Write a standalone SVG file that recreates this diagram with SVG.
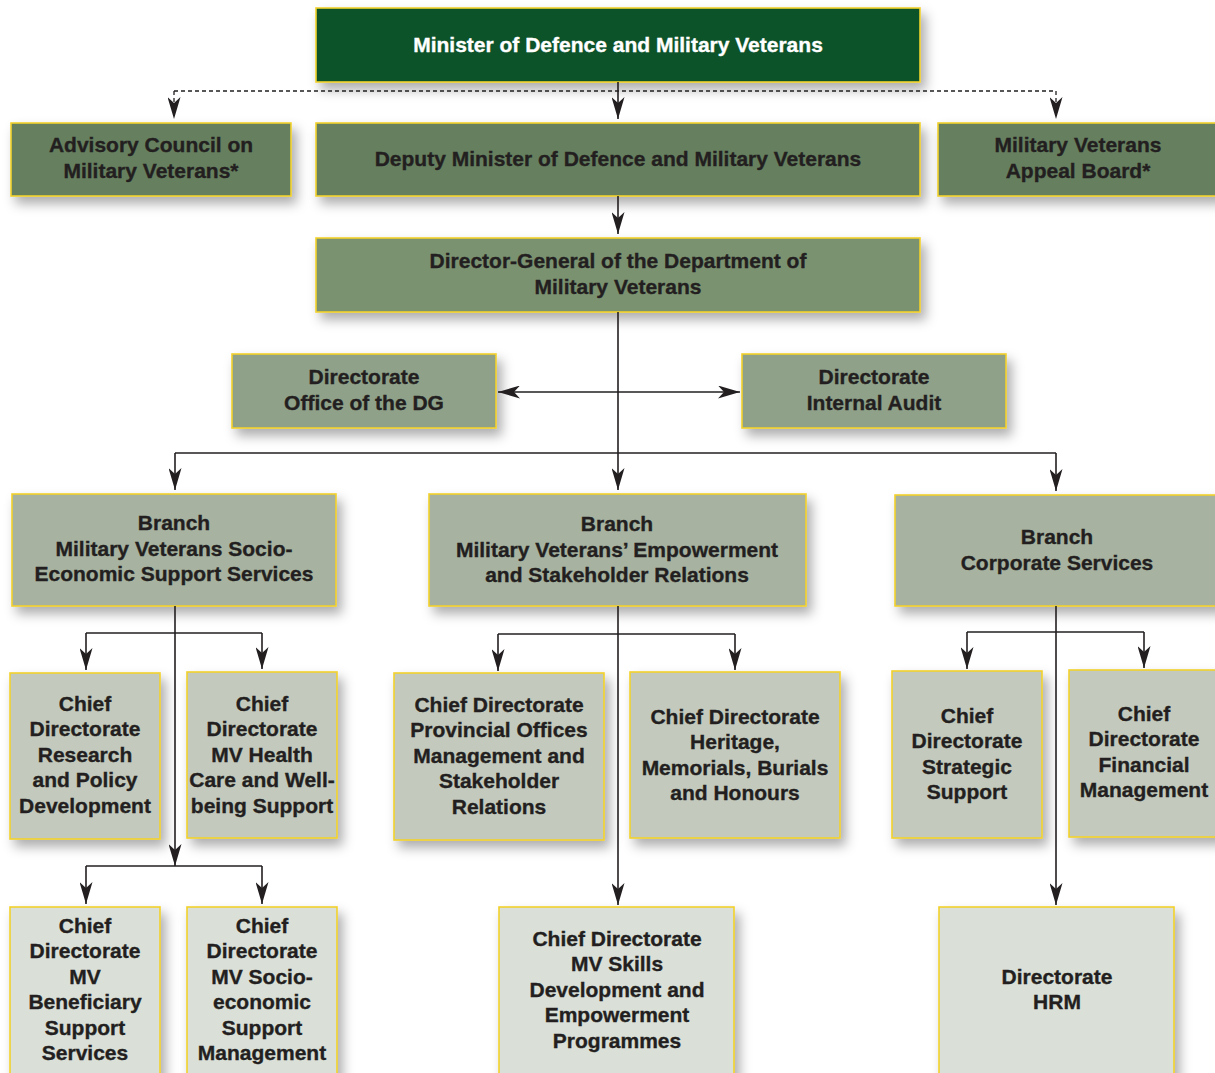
<svg xmlns="http://www.w3.org/2000/svg" width="1215" height="1073" viewBox="0 0 1215 1073">
<defs>
<filter id="sh" x="-20%" y="-20%" width="150%" height="160%">
<feDropShadow dx="5" dy="7" stdDeviation="6" flood-color="#000" flood-opacity="0.32"/>
</filter>
<marker id="ah" viewBox="0 0 22 13" markerUnits="userSpaceOnUse" markerWidth="22" markerHeight="13" refX="22" refY="6.5" orient="auto-start-reverse">
<path d="M0,0 L22,6.5 L0,13 L6,6.5 z" fill="#231f20"/>
</marker>
<style>
.box{stroke:#f2d12c;stroke-width:1.6;filter:url(#sh)}
.l0{fill:#0b532b}
.l1{fill:#66805f}
.l2{fill:#7a9270}
.l3{fill:#8fa189}
.l4{fill:#a7b3a0}
.l5{fill:#c3cabd}
.l6{fill:#dadfd8}
text{font-family:"Liberation Sans",Arial,sans-serif;font-weight:bold;font-size:21px;fill:#231f20;stroke:#231f20;stroke-width:0.35;text-anchor:middle}
.w{fill:#ffffff;stroke:#ffffff;font-size:21px}
.c{stroke:#231f20;stroke-width:1.6;fill:none}
.d{stroke:#231f20;stroke-width:1.3;fill:none;stroke-dasharray:4 3}
</style>
</defs>

<g id="minister"><rect class="box l0" x="316" y="8" width="604" height="74"/><text class="w" x="618" y="51.5">Minister of Defence and Military Veterans</text></g>

<g id="advisory"><rect class="box l1" x="11" y="123" width="280" height="73"/><text x="151" y="151.5">Advisory Council on</text><text x="151" y="177.5">Military Veterans*</text></g>
<g id="deputy"><rect class="box l1" x="316" y="123" width="604" height="73"/><text x="618" y="165.5">Deputy Minister of Defence and Military Veterans</text></g>
<g id="appeal"><rect class="box l1" x="938" y="123" width="290" height="73"/><text x="1078" y="151.5">Military Veterans</text><text x="1078" y="177.5">Appeal Board*</text></g>

<g id="dg"><rect class="box l2" x="316" y="238" width="604" height="74"/><text x="618" y="268">Director-General of the Department of</text><text x="618" y="294">Military Veterans</text></g>

<g id="office-dg"><rect class="box l3" x="232" y="354" width="264" height="74"/><text x="364" y="384">Directorate</text><text x="364" y="410">Office of the DG</text></g>
<g id="internal-audit"><rect class="box l3" x="742" y="354" width="264" height="74"/><text x="874" y="384">Directorate</text><text x="874" y="410">Internal Audit</text></g>

<g id="branch-socio"><rect class="box l4" x="12" y="494" width="324" height="112"/><text x="174" y="530">Branch</text><text x="174" y="555.5">Military Veterans Socio-</text><text x="174" y="581">Economic Support Services</text></g>
<g id="branch-empower"><rect class="box l4" x="429" y="494" width="377" height="112"/><text x="617" y="531">Branch</text><text x="617" y="556.5">Military Veterans’ Empowerment</text><text x="617" y="582">and Stakeholder Relations</text></g>
<g id="branch-corporate"><rect class="box l4" x="895" y="495" width="330" height="111"/><text x="1057" y="544">Branch</text><text x="1057" y="570">Corporate Services</text></g>

<g id="cd-research"><rect class="box l5" x="10" y="673" width="150" height="166"/><text x="85" y="710.5">Chief</text><text x="85" y="736">Directorate</text><text x="85" y="761.5">Research</text><text x="85" y="787">and Policy</text><text x="85" y="812.5">Development</text></g>
<g id="cd-health"><rect class="box l5" x="187" y="672" width="150" height="166"/><text x="262" y="710.5">Chief</text><text x="262" y="736">Directorate</text><text x="262" y="761.5">MV Health</text><text x="262" y="787">Care and Well-</text><text x="262" y="812.5">being Support</text></g>
<g id="cd-provincial"><rect class="box l5" x="394" y="673" width="210" height="167"/><text x="499" y="711.5">Chief Directorate</text><text x="499" y="737">Provincial Offices</text><text x="499" y="762.5">Management and</text><text x="499" y="788">Stakeholder</text><text x="499" y="813.5">Relations</text></g>
<g id="cd-heritage"><rect class="box l5" x="630" y="672" width="210" height="166"/><text x="735" y="723.5">Chief Directorate</text><text x="735" y="749">Heritage,</text><text x="735" y="774.5">Memorials, Burials</text><text x="735" y="800">and Honours</text></g>
<g id="cd-strategic"><rect class="box l5" x="892" y="671" width="150" height="167"/><text x="967" y="722.5">Chief</text><text x="967" y="748">Directorate</text><text x="967" y="773.5">Strategic</text><text x="967" y="799">Support</text></g>
<g id="cd-financial"><rect class="box l5" x="1069" y="670" width="160" height="167"/><text x="1144" y="720.5">Chief</text><text x="1144" y="746">Directorate</text><text x="1144" y="771.5">Financial</text><text x="1144" y="797">Management</text></g>

<g id="cd-beneficiary"><rect class="box l6" x="10" y="907" width="150" height="180"/><text x="85" y="932.5">Chief</text><text x="85" y="958">Directorate</text><text x="85" y="983.5">MV</text><text x="85" y="1009">Beneficiary</text><text x="85" y="1034.5">Support</text><text x="85" y="1060">Services</text></g>
<g id="cd-socioeconomic"><rect class="box l6" x="187" y="907" width="150" height="180"/><text x="262" y="932.5">Chief</text><text x="262" y="958">Directorate</text><text x="262" y="983.5">MV Socio-</text><text x="262" y="1009">economic</text><text x="262" y="1034.5">Support</text><text x="262" y="1060">Management</text></g>
<g id="cd-skills"><rect class="box l6" x="499" y="907" width="235" height="180"/><text x="617" y="945.5">Chief Directorate</text><text x="617" y="971">MV Skills</text><text x="617" y="996.5">Development and</text><text x="617" y="1022">Empowerment</text><text x="617" y="1047.5">Programmes</text></g>
<g id="dir-hrm"><rect class="box l6" x="939" y="907" width="235" height="180"/><text x="1057" y="983.5">Directorate</text><text x="1057" y="1009">HRM</text></g>

<g id="connectors">
<path class="d" d="M174,91 H1056"/>
<path class="d" d="M174,91 V119" marker-end="url(#ah)"/>
<path class="d" d="M1056,91 V119" marker-end="url(#ah)"/>
<path class="c" d="M618,82 V119" marker-end="url(#ah)"/>
<path class="c" d="M618,196 V234" marker-end="url(#ah)"/>
<path class="c" d="M618,312 V490" marker-end="url(#ah)"/>
<path class="c" d="M498,392 H740" marker-start="url(#ah)" marker-end="url(#ah)"/>
<path class="c" d="M175,453 H1056"/>
<path class="c" d="M175,453 V490" marker-end="url(#ah)"/>
<path class="c" d="M1056,453 V491" marker-end="url(#ah)"/>
<path class="c" d="M86,633 H262"/>
<path class="c" d="M86,633 V670" marker-end="url(#ah)"/>
<path class="c" d="M262,633 V669" marker-end="url(#ah)"/>
<path class="c" d="M175,606 V866" marker-end="url(#ah)"/>
<path class="c" d="M86,866 H262"/>
<path class="c" d="M86,866 V904" marker-end="url(#ah)"/>
<path class="c" d="M262,866 V904" marker-end="url(#ah)"/>
<path class="c" d="M498,634 H735"/>
<path class="c" d="M498,634 V671" marker-end="url(#ah)"/>
<path class="c" d="M735,634 V670" marker-end="url(#ah)"/>
<path class="c" d="M618,606 V905" marker-end="url(#ah)"/>
<path class="c" d="M967,632 H1144"/>
<path class="c" d="M967,632 V669" marker-end="url(#ah)"/>
<path class="c" d="M1144,632 V668" marker-end="url(#ah)"/>
<path class="c" d="M1056,606 V905" marker-end="url(#ah)"/>
</g>
</svg>
